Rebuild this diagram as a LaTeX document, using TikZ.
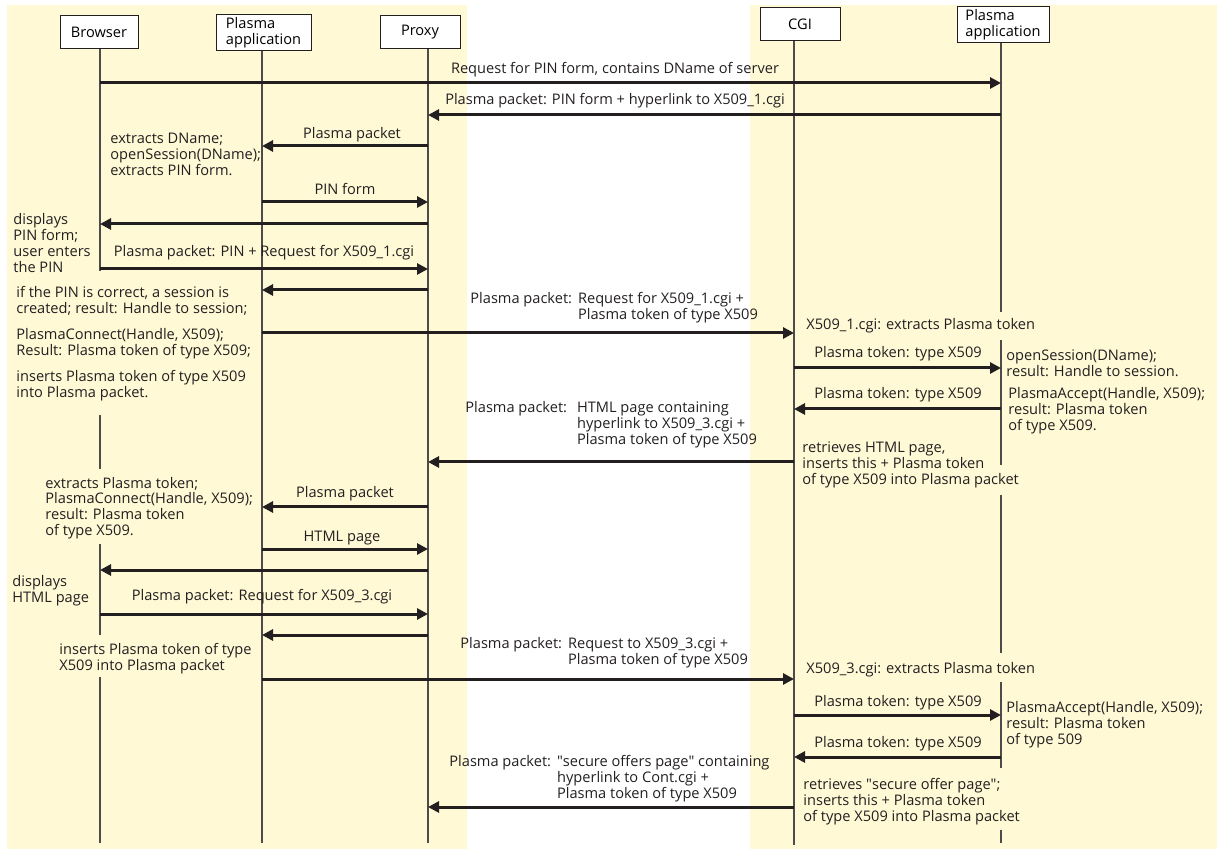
\documentclass[tikz,border=0pt]{standalone}
\usepackage{fontspec}
\setmainfont{Open Sans}
\usetikzlibrary{arrows.meta, positioning}
\definecolor{paneyellow}{RGB}{255,249,214}
\definecolor{inkgray}{RGB}{35,31,32}
\newcommand{\seqfont}{\fontsize{7.3}{8}\selectfont}

\tikzset{
  actor/.style={draw=inkgray, line width=0.5pt, fill=white, minimum height=16.5pt, inner sep=1.5pt, align=left},
  lifeline/.style={draw=black!70, line width=0.6pt},
  msg/.style={draw=inkgray, line width=1.5pt, -{Triangle[length=5.5pt,width=5.5pt]}},
  lbl/.style={inner sep=0pt, text=inkgray, anchor=base},
  note/.style={inner sep=0pt, text=inkgray, align=left, anchor=base west},
}

\begin{document}
\begin{tikzpicture}[x=0.5pt, y=-0.5pt, font=\seqfont]
        \useasboundingbox (0,0) rectangle (1224,854);

        % yellow panels (client side, server side)
        \fill[paneyellow] (7,5) rectangle (467,849);
        \fill[paneyellow] (750,5) rectangle (1217,849);

        % actors
        \node[actor, minimum width=39pt] (browser) at (99,32.5) {Browser};
        \node[actor, minimum width=47.5pt] (app) at (263.5,32.5) {Plasma\\application};
        \node[actor, minimum width=40pt] (proxy) at (420,32.5) {Proxy};
        \node[actor, minimum width=40pt] (cgi) at (800,24.5) {CGI};
        \node[actor, minimum width=46pt] (sapp) at (1003,24.5) {Plasma\\application};

        % lifeline tops
        \coordinate (browser-l) at (browser.south -| 100,0);
        \coordinate (app-l) at (app.south -| 262,0);
        \coordinate (proxy-l) at (proxy.south -| 428,0);
        \coordinate (cgi-l) at (cgi.south -| 794,0);
        \coordinate (sapp-l) at (sapp.south -| 1001,0);

        % lifelines (broken where notes cross them)
        \draw[lifeline] (browser-l) -- (browser-l |- 0,271);
        \draw[lifeline] (browser-l |- 0,415) -- (browser-l |- 0,469);
        \draw[lifeline] (browser-l |- 0,544) -- (browser-l |- 0,635);
        \draw[lifeline] (browser-l |- 0,677) -- (browser-l |- 0,843);
        \draw[lifeline] (app-l) -- (app-l |- 0,843);
        \draw[lifeline] (proxy-l) -- (proxy-l |- 0,843);
        \draw[lifeline] (cgi-l) -- (cgi-l |- 0,845);
        \draw[lifeline] (sapp-l) -- (sapp-l |- 0,312);
        \draw[lifeline] (sapp-l |- 0,340) -- (sapp-l |- 0,465);
        \draw[lifeline] (sapp-l |- 0,495) -- (sapp-l |- 0,653);
        \draw[lifeline] (sapp-l |- 0,682) -- (sapp-l |- 0,768);
        \draw[lifeline] (sapp-l |- 0,830) -- (sapp-l |- 0,843);

        % messages
        \draw[msg] (browser-l |- 0,83) -- (sapp-l |- 0,83);
        \draw[msg] (sapp-l |- 0,115) -- (proxy-l |- 0,115);
        \draw[msg] (proxy-l |- 0,146) -- (app-l |- 0,146);
        \draw[msg] (app-l |- 0,202) -- (proxy-l |- 0,202);
        \draw[msg] (proxy-l |- 0,224) -- (browser-l |- 0,224);
        \draw[msg] (browser-l |- 0,269) -- (proxy-l |- 0,269);
        \draw[msg] (proxy-l |- 0,290) -- (app-l |- 0,290);
        \draw[msg] (app-l |- 0,333) -- (cgi-l |- 0,333);
        \draw[msg] (cgi-l |- 0,368) -- (sapp-l |- 0,368);
        \draw[msg] (sapp-l |- 0,409) -- (cgi-l |- 0,409);
        \draw[msg] (cgi-l |- 0,462) -- (proxy-l |- 0,462);
        \draw[msg] (proxy-l |- 0,507) -- (app-l |- 0,507);
        \draw[msg] (app-l |- 0,549) -- (proxy-l |- 0,549);
        \draw[msg] (proxy-l |- 0,570) -- (browser-l |- 0,570);
        \draw[msg] (browser-l |- 0,614) -- (proxy-l |- 0,614);
        \draw[msg] (proxy-l |- 0,635) -- (app-l |- 0,635);
        \draw[msg] (app-l |- 0,679) -- (cgi-l |- 0,679);
        \draw[msg] (cgi-l |- 0,715) -- (sapp-l |- 0,715);
        \draw[msg] (sapp-l |- 0,757) -- (cgi-l |- 0,757);
        \draw[msg] (cgi-l |- 0,807) -- (proxy-l |- 0,807);

        % message labels
        \node[lbl] (l-req) at (615,74) {Request for PIN form, contains DName of server};
        \node[lbl] (l-form) at (615,105) {Plasma packet: PIN form + hyperlink to X509\_1.cgi};
        \node[lbl] (l-pk1) at (352,139) {Plasma packet};
        \node[lbl] (l-pin) at (345,195) {PIN form};
        \node[lbl] (l-pinreq) at (264,257) {Plasma packet: PIN + Request for X509\_1.cgi};
        \node[lbl, anchor=base west] (l-x1) at (470,304) {\begin{tabular}[t]{@{}l@{\hspace{3pt}}l@{}}Plasma packet: & Request for X509\_1.cgi +\\ & Plasma token of type X509\end{tabular}};
        \node[lbl] (l-tok1) at (898,358) {Plasma token: type X509};
        \node[lbl] (l-tok2) at (898,399) {Plasma token: type X509};
        \node[lbl, anchor=base west] (l-html) at (465,413) {\begin{tabular}[t]{@{}l@{\hspace{5pt}}l@{}}Plasma packet: & HTML page containing\\ & hyperlink to X509\_3.cgi +\\ & Plasma token of type X509\end{tabular}};
        \node[lbl] (l-pk2) at (345,498) {Plasma packet};
        \node[lbl] (l-page) at (342,541) {HTML page};
        \node[lbl] (l-req3) at (262,600) {Plasma packet: Request for X509\_3.cgi};
        \node[lbl, anchor=base west] (l-x3) at (460,648) {\begin{tabular}[t]{@{}l@{\hspace{3pt}}l@{}}Plasma packet: & Request to X509\_3.cgi +\\ & Plasma token of type X509\end{tabular}};
        \node[lbl] (l-tok3) at (898,706) {Plasma token: type X509};
        \node[lbl] (l-tok4) at (898,747) {Plasma token: type X509};
        \node[lbl, anchor=base west] (l-offer) at (449,766) {\begin{tabular}[t]{@{}l@{\hspace{3pt}}l@{}}Plasma packet: & \textquotedbl secure offers page\textquotedbl{} containing\\ & hyperlink to Cont.cgi +\\ & Plasma token of type X509\end{tabular}};

        % notes beside the lifelines
        \node[note] (n-dname) at (110,176) {extracts DName;\\openSession(DName);\\extracts PIN form.};
        \node[note] (n-show1) at (13,273) {displays\\PIN form;\\user enters\\the PIN};
        \node[note] (n-sess) at (16,314) {if the PIN is correct, a session is\\created; result: Handle to session;};
        \node[note] (n-conn1) at (16,356) {PlasmaConnect(Handle, X509);\\Result: Plasma token of type X509;};
        \node[note] (n-ins1) at (16,398) {inserts Plasma token of type X509\\into Plasma packet.};
        \node[note] (n-cgi1) at (806,330) {X509\_1.cgi: extracts Plasma token};
        \node[note] (n-open) at (1006,377) {openSession(DName);\\result: Handle to session.};
        \node[note] (n-acc1) at (1008,431) {PlasmaAccept(Handle, X509);\\result: Plasma token\\of type X509.};
        \node[note] (n-ret1) at (802,485) {retrieves HTML page,\\inserts this + Plasma token\\of type X509 into Plasma packet};
        \node[note] (n-conn2) at (45,536) {extracts Plasma token;\\PlasmaConnect(Handle, X509);\\result: Plasma token\\of type X509.};
        \node[note] (n-show2) at (12,602) {displays\\HTML page};
        \node[note] (n-ins2) at (59,670) {inserts Plasma token of type\\X509 into Plasma packet};
        \node[note] (n-cgi3) at (806,673) {X509\_3.cgi: extracts Plasma token};
        \node[note] (n-acc2) at (1006,744) {PlasmaAccept(Handle, X509);\\result: Plasma token\\of type 509};
        \node[note] (n-ret2) at (803,821) {retrieves \textquotedbl secure offer page\textquotedbl;\\inserts this + Plasma token\\of type X509 into Plasma packet};
    \end{tikzpicture}
\end{document}
